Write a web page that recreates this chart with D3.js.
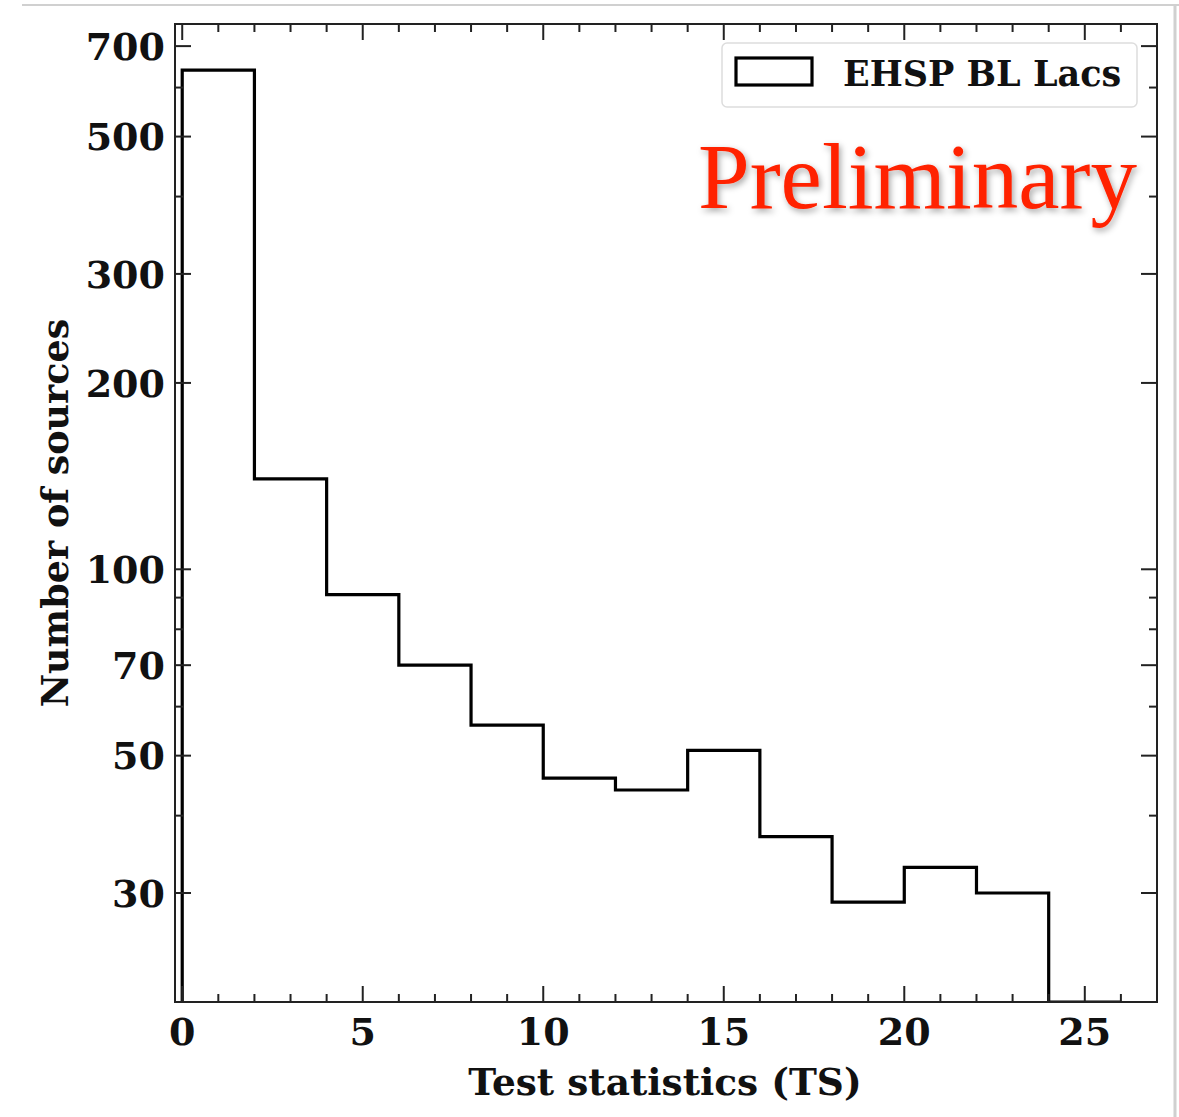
<!DOCTYPE html>
<html>
<head>
<meta charset="utf-8">
<script src="https://cdn.jsdelivr.net/npm/d3@7"></script>
<style>
  html, body { margin: 0; padding: 0; background: #fff; }
  svg { display: block; }
</style>
</head>
<body>
<svg id="chart" width="1179" height="1117"></svg>
<script>
// ---- data ----
const binEdges = [0, 2, 4, 6, 8, 10, 12, 14, 16, 18, 20, 22, 24, 26];
const counts = [640, 140, 91, 70, 56, 46, 44, 51, 37, 29, 33, 30, 20];
const xTickLabels = [0, 5, 10, 15, 20, 25];
const yTickLabels = [30, 50, 70, 100, 200, 300, 500, 700];
const yMinorTicks = [40, 60, 80, 90, 400, 600];
const seriesName = "EHSP BL Lacs";
const xTitle = "Test statistics (TS)";
const yTitle = "Number of sources";
const stamp = "Preliminary";

// ---- layout ----
const svg = d3.select("#chart");
const L = 175, R = 1157, T = 24, B = 1002;
const x = d3.scaleLinear().domain([-0.2, 27]).range([L, R]);
const y = d3.scaleLog().domain([20, 760]).range([B, T]);
const serif = "'DejaVu Serif', serif";
const axisColor = "#222";

// outer screenshot border
svg.append("line").attr("x1", 22).attr("x2", 1179).attr("y1", 5).attr("y2", 5)
  .attr("stroke", "#d0d0d0").attr("stroke-width", 2);
svg.append("line").attr("x1", 1175).attr("x2", 1175).attr("y1", 5).attr("y2", 1117)
  .attr("stroke", "#d0d0d0").attr("stroke-width", 3);

const defs = svg.append("defs");
defs.append("clipPath").attr("id", "clip").append("rect")
  .attr("x", L).attr("y", T).attr("width", R - L).attr("height", B - T);
const f = defs.append("filter").attr("id", "shadow").attr("x", "-10%").attr("y", "-20%")
  .attr("width", "130%").attr("height", "150%");
f.append("feDropShadow").attr("dx", 2).attr("dy", 3).attr("stdDeviation", 3)
  .attr("flood-color", "#000").attr("flood-opacity", 0.35);

// histogram step line
const pts = [[binEdges[0], 20]];
counts.forEach((c, i) => { pts.push([binEdges[i], c]); pts.push([binEdges[i + 1], c]); });
pts.push([binEdges[binEdges.length - 1], 20]);
const line = d3.line().x(d => x(d[0])).y(d => y(Math.max(d[1], 20)));
svg.append("path").attr("d", line(pts)).attr("fill", "none")
  .attr("stroke", "#000").attr("stroke-width", 3.2).attr("stroke-linejoin", "miter")
  .attr("clip-path", "url(#clip)");

// axes with inward ticks
const xMajor = xTickLabels;
const xMinor = d3.range(0, 27).filter(v => v % 5 !== 0);
function ticksX(g, yPos, dir) {
  xMajor.forEach(v => g.append("line").attr("x1", x(v)).attr("x2", x(v))
    .attr("y1", yPos).attr("y2", yPos + dir * 16));
  xMinor.forEach(v => g.append("line").attr("x1", x(v)).attr("x2", x(v))
    .attr("y1", yPos).attr("y2", yPos + dir * 8));
}
function ticksY(g, xPos, dir) {
  yTickLabels.forEach(v => g.append("line").attr("y1", y(v)).attr("y2", y(v))
    .attr("x1", xPos).attr("x2", xPos + dir * 16));
  yMinorTicks.forEach(v => g.append("line").attr("y1", y(v)).attr("y2", y(v))
    .attr("x1", xPos).attr("x2", xPos + dir * 8));
}
const tg = svg.append("g").attr("stroke", axisColor).attr("stroke-width", 2);
ticksX(tg, B, -1);
ticksX(tg, T, 1);
ticksY(tg, L, 1);
ticksY(tg, R, -1);
svg.append("rect").attr("x", L).attr("y", T).attr("width", R - L).attr("height", B - T)
  .attr("fill", "none").attr("stroke", axisColor).attr("stroke-width", 2);

// tick labels
svg.append("g").selectAll("text").data(xTickLabels).join("text")
  .attr("x", d => x(d)).attr("y", 1045).attr("text-anchor", "middle")
  .attr("font-family", serif).attr("font-weight", "bold").attr("font-size", 38)
  .attr("fill", "#111").text(d => d);
svg.append("g").selectAll("text").data(yTickLabels).join("text")
  .attr("x", 165).attr("y", d => y(d)).attr("dy", "0.36em").attr("text-anchor", "end")
  .attr("font-family", serif).attr("font-weight", "bold").attr("font-size", 38)
  .attr("fill", "#111").text(d => d);

// axis titles
svg.append("text").attr("x", 665).attr("y", 1095).attr("text-anchor", "middle")
  .attr("font-family", serif).attr("font-weight", "bold").attr("font-size", 37.5)
  .attr("fill", "#111").text(xTitle);
svg.append("text").attr("transform", "translate(68,513) rotate(-90)")
  .attr("text-anchor", "middle")
  .attr("font-family", serif).attr("font-weight", "bold").attr("font-size", 36.5)
  .attr("fill", "#111").text(yTitle);

// legend
svg.append("rect").attr("x", 722).attr("y", 43).attr("width", 415).attr("height", 64)
  .attr("rx", 5).attr("fill", "#fff").attr("stroke", "#ddd").attr("stroke-width", 1.5);
svg.append("rect").attr("x", 736).attr("y", 58).attr("width", 76).attr("height", 27)
  .attr("fill", "none").attr("stroke", "#000").attr("stroke-width", 3.2);
svg.append("text").attr("x", 843).attr("y", 86)
  .attr("font-family", serif).attr("font-weight", "bold").attr("font-size", 35)
  .attr("fill", "#111").text(seriesName);

// Preliminary stamp
svg.append("text").attr("x", 1137).attr("y", 208).attr("text-anchor", "end")
  .attr("font-family", "'Liberation Serif', 'Times New Roman', serif")
  .attr("font-size", 93).attr("fill", "#ff2200").attr("filter", "url(#shadow)")
  .text(stamp);
</script>
</body>
</html>
